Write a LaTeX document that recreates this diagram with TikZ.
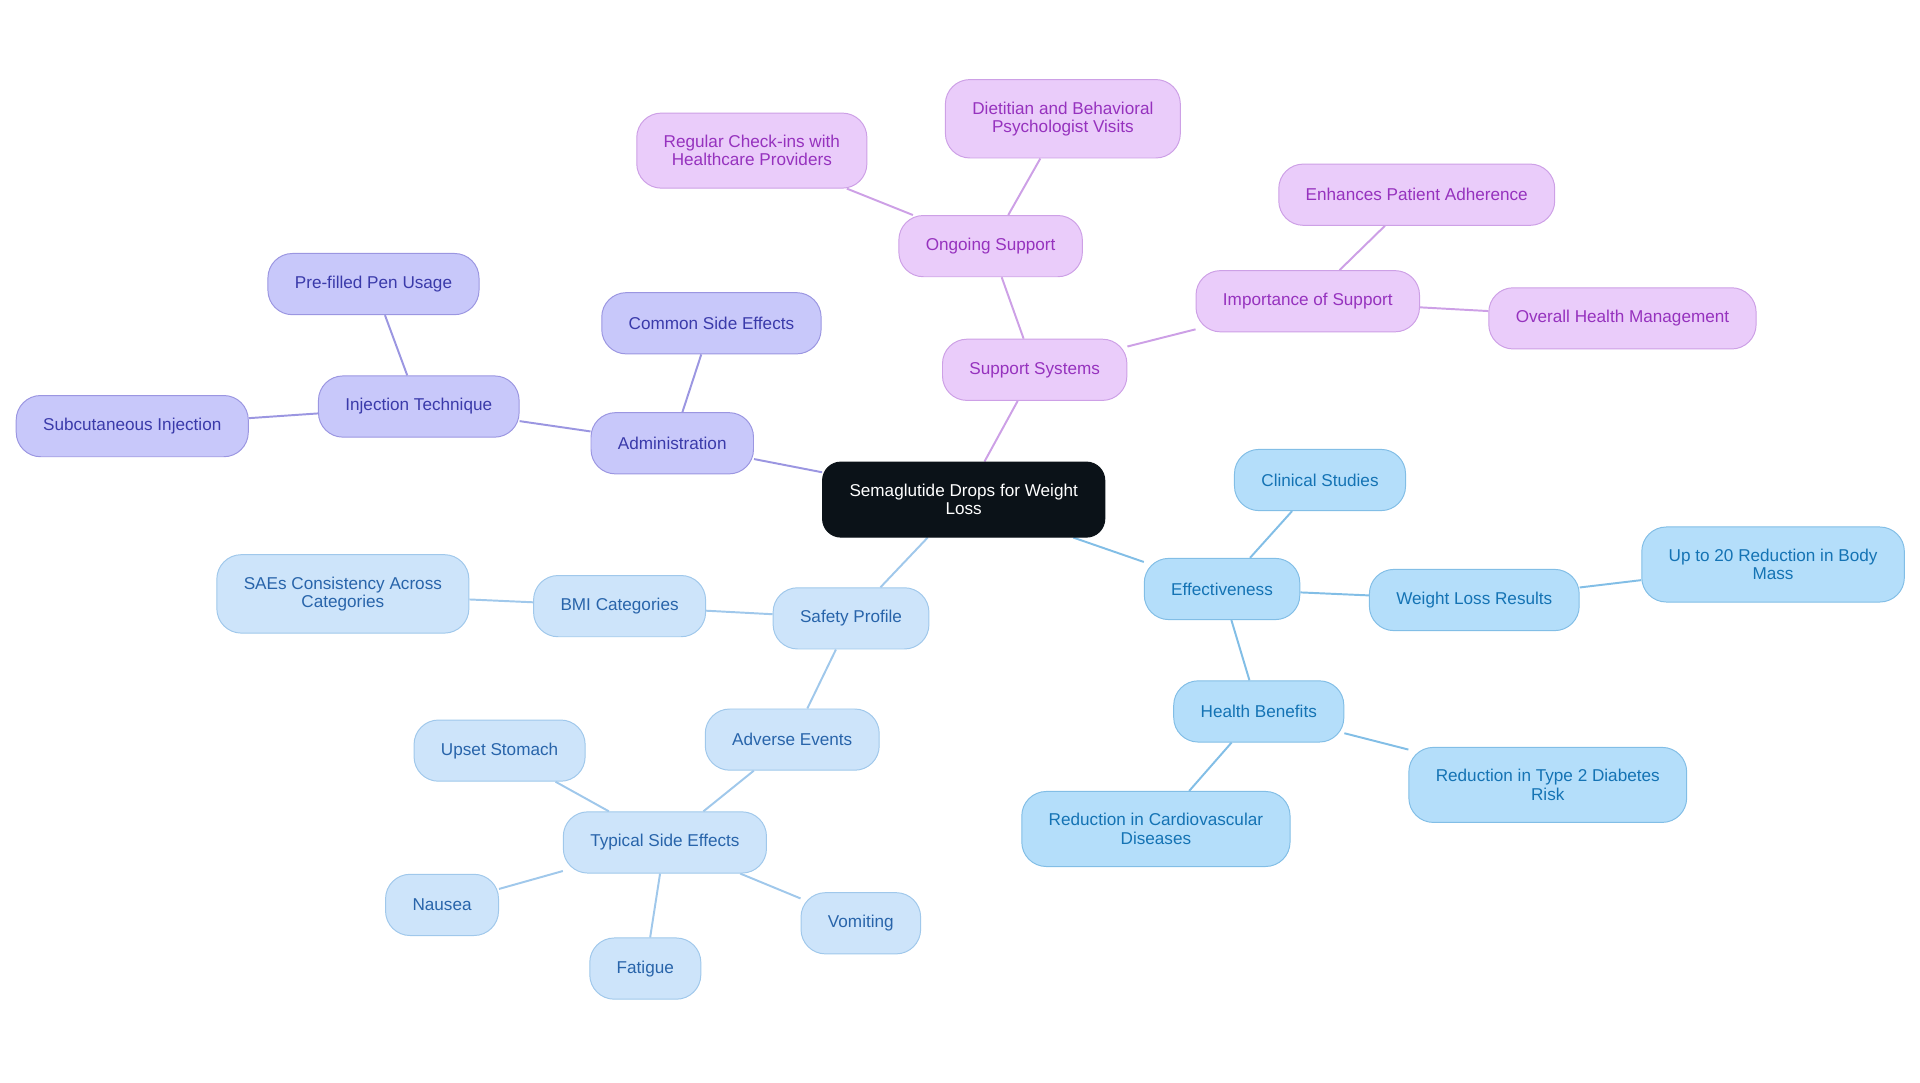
\documentclass[tikz,border=0pt]{standalone}
\usepackage{xcolor}
\usepackage{fontspec}
\setmainfont{Liberation Sans}
\usepackage{tikz}
\usetikzlibrary{positioning, backgrounds}
\definecolor{rootcolor}{RGB}{11,18,24}
\definecolor{admincolor}{RGB}{200,200,250}
\definecolor{adminedge}{RGB}{155,150,225}
\definecolor{admintext}{RGB}{58,58,170}
\definecolor{suppcolor}{RGB}{234,204,250}
\definecolor{suppedge}{RGB}{205,160,230}
\definecolor{supptext}{RGB}{150,50,190}
\definecolor{effcolor}{RGB}{180,222,250}
\definecolor{effedge}{RGB}{130,190,230}
\definecolor{efftext}{RGB}{20,115,180}
\definecolor{safecolor}{RGB}{205,228,250}
\definecolor{safeedge}{RGB}{160,200,235}
\definecolor{safetext}{RGB}{40,100,170}

\begin{document}
\begin{tikzpicture}[
    x=1pt, y=-1pt,
    box/.style={draw, line width=0.8pt, rounded corners=20pt, minimum height=50pt, inner xsep=22pt, inner ysep=18pt, align=center, font=\fontsize{14}{15}\selectfont},
    root/.style={box, fill=rootcolor, draw=rootcolor, text=white, rounded corners=15pt},
    admin/.style={box, fill=admincolor, draw=adminedge, text=admintext},
    supp/.style={box, fill=suppcolor, draw=suppedge, text=supptext},
    eff/.style={box, fill=effcolor, draw=effedge, text=efftext},
    safe/.style={box, fill=safecolor, draw=safeedge, text=safetext},
    link/.style={line width=1.6pt}
]
    \useasboundingbox (0,0) rectangle (1568,884);

    % Central topic
    \node[root] (root) at (787,408) {Semaglutide Drops for Weight\\Loss};

    % Administration branch
    \node[admin] (admin) at (549,362) {Administration};
    \node[admin] (cse) at (581,264) {Common Side Effects};
    \node[admin] (inj) at (342,332) {Injection Technique};
    \node[admin] (pen) at (305,232) {Pre-filled Pen Usage};
    \node[admin] (subq) at (108,348) {Subcutaneous Injection};

    % Support branch
    \node[supp] (supp) at (845,302) {Support Systems};
    \node[supp] (ongo) at (809,201) {Ongoing Support};
    \node[supp] (check) at (614,123) {Regular Check-ins with\\Healthcare Providers};
    \node[supp] (diet) at (868,97) {Dietitian and Behavioral\\Psychologist Visits};
    \node[supp] (imp) at (1068,246) {Importance of Support};
    \node[supp] (adh) at (1157,159) {Enhances Patient Adherence};
    \node[supp] (ohm) at (1325,260) {Overall Health Management};

    % Effectiveness branch
    \node[eff] (eff) at (998,481) {Effectiveness};
    \node[eff] (clin) at (1078,392) {Clinical Studies};
    \node[eff] (wlr) at (1204,490) {Weight Loss Results};
    \node[eff] (body) at (1448,461) {Up to 20 Reduction in Body\\Mass};
    \node[eff] (hb) at (1028,581) {Health Benefits};
    \node[eff] (t2d) at (1264,641) {Reduction in Type 2 Diabetes\\Risk};
    \node[eff] (cvd) at (944,677) {Reduction in Cardiovascular\\Diseases};

    % Safety branch
    \node[safe] (safe) at (695,505) {Safety Profile};
    \node[safe] (bmi) at (506,495) {BMI Categories};
    \node[safe] (saes) at (280,485) {SAEs Consistency Across\\Categories};
    \node[safe] (ae) at (647,604) {Adverse Events};
    \node[safe] (tse) at (543,688) {Typical Side Effects};
    \node[safe] (upset) at (408,613) {Upset Stomach};
    \node[safe] (naus) at (361,739) {Nausea};
    \node[safe] (fat) at (527,791) {Fatigue};
    \node[safe] (vom) at (703,754) {Vomiting};

    % Connections
    \begin{scope}[on background layer]
        \draw[link, adminedge] (root) -- (admin);
        \draw[link, adminedge] (admin) -- (cse);
        \draw[link, adminedge] (admin) -- (inj);
        \draw[link, adminedge] (inj) -- (pen);
        \draw[link, adminedge] (inj) -- (subq);
        \draw[link, suppedge] (root) -- (supp);
        \draw[link, suppedge] (supp) -- (ongo);
        \draw[link, suppedge] (ongo) -- (check);
        \draw[link, suppedge] (ongo) -- (diet);
        \draw[link, suppedge] (supp) -- (imp);
        \draw[link, suppedge] (imp) -- (adh);
        \draw[link, suppedge] (imp) -- (ohm);
        \draw[link, effedge] (root) -- (eff);
        \draw[link, effedge] (eff) -- (clin);
        \draw[link, effedge] (eff) -- (wlr);
        \draw[link, effedge] (wlr) -- (body);
        \draw[link, effedge] (eff) -- (hb);
        \draw[link, effedge] (hb) -- (t2d);
        \draw[link, effedge] (hb) -- (cvd);
        \draw[link, safeedge] (root) -- (safe);
        \draw[link, safeedge] (safe) -- (bmi);
        \draw[link, safeedge] (bmi) -- (saes);
        \draw[link, safeedge] (safe) -- (ae);
        \draw[link, safeedge] (ae) -- (tse);
        \draw[link, safeedge] (tse) -- (upset);
        \draw[link, safeedge] (tse) -- (naus);
        \draw[link, safeedge] (tse) -- (fat);
        \draw[link, safeedge] (tse) -- (vom);
    \end{scope}
\end{tikzpicture}
\end{document}
